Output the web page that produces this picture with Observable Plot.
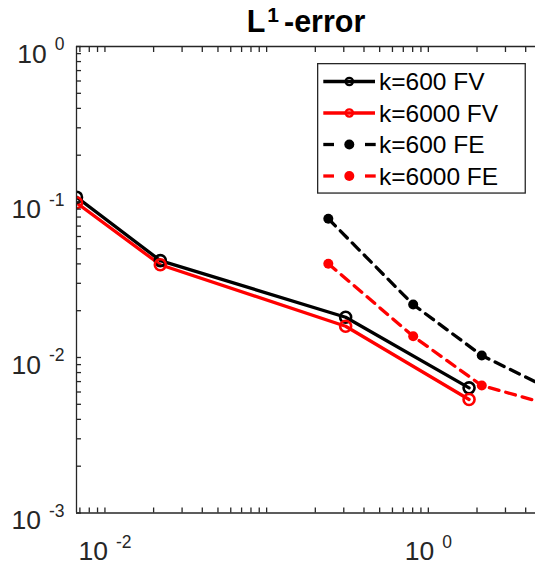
<!DOCTYPE html>
<html>
<head>
<meta charset="utf-8">
<script src="https://cdn.jsdelivr.net/npm/d3@7"></script>
<script src="https://cdn.jsdelivr.net/npm/@observablehq/plot@0.6"></script>
<style>
  html, body { margin: 0; padding: 0; background: #fff; overflow: hidden; }
  #chart { position: relative; width: 535px; height: 566px; font-family: "Liberation Sans", Arial, sans-serif; }
  #legend { position: absolute; left: 317px; top: 63px; }
</style>
</head>
<body>
<div id="chart"></div>
<script>
// Mesh size h and L1 errors for the finite-volume (FV) and finite-element (FE) runs
const hFV = [0.00667, 0.0220, 0.308, 1.786];
const errFV600 = [0.1074, 0.0420, 0.01816, 0.00638];
const errFV6000 = [0.0988, 0.0395, 0.01589, 0.00537];

const hFE = [0.2407, 0.806, 2.14, 6.0];
const errFE600 = [0.0780, 0.0219, 0.0103, 0.00608];
const errFE6000 = [0.0401, 0.0137, 0.0066, 0.00489];

// Series names and colours
const seriesNames = ["k=600 FV", "k=6000 FV", "k=600 FE", "k=6000 FE"];
const seriesColors = ["#000000", "#ff0000", "#000000", "#ff0000"];

// Axis limits and tick labels
const xMin = 0.00667, xMax = 4.6;
const yMin = 0.001, yMax = 1;
const xLabelValues = [0.01, 1];
const xLabelText = ["10^-2", "10^0"];
const yLabelValues = [1, 0.1, 0.01, 0.001];
const yLabelText = ["10^0", "10^-1", "10^-2", "10^-3"];
const titleText = "L^1-error";

// Log-scale minor tick positions (1..9 × 10^d)
const mults = [1, 2, 3, 4, 5, 6, 7, 8, 9];
const xTicks = [-3, -2, -1, 0].flatMap(d => mults.map(k => k * 10 ** d)).filter(v => v >= xMin && v <= xMax);
const yTicks = [-3, -2, -1].flatMap(d => mults.map(k => k * 10 ** d)).concat([1]);

function rows(xs, ys, name, color) {
  return xs.map((x, i) => ({x, y: ys[i], name, color}));
}
const fv = [
  ...rows(hFV, errFV600, seriesNames[0], seriesColors[0]),
  ...rows(hFV, errFV6000, seriesNames[1], seriesColors[1])
];
const fe = [
  ...rows(hFE, errFE600, seriesNames[2], seriesColors[2]),
  ...rows(hFE, errFE6000, seriesNames[3], seriesColors[3])
];

const axisColor = "#262626";

const plot = Plot.plot({
  width: 535,
  height: 566,
  marginLeft: 76,
  marginRight: 0,
  marginTop: 46,
  marginBottom: 53.5,
  style: {fontFamily: "'Liberation Sans', Arial, sans-serif", background: "white", overflow: "hidden"},
  x: {type: "log", domain: [xMin, xMax], axis: null},
  y: {type: "log", domain: [yMin, yMax], axis: null},
  marks: [
    // Finite-volume curves: solid lines with open circles
    Plot.line(fv, {x: "x", y: "y", z: "name", stroke: "color", strokeWidth: 3.3, clip: true}),
    Plot.dot(fv, {x: "x", y: "y", stroke: "color", fill: "none", r: 5.5, strokeWidth: 2.6, clip: true}),
    // Finite-element curves: dashed lines with filled dots
    Plot.line(fe, {x: "x", y: "y", z: "name", stroke: "color", strokeWidth: 3.3, strokeDasharray: "10,7", clip: true}),
    Plot.dot(fe, {x: "x", y: "y", fill: "color", r: 5, clip: true}),
    // Box
    Plot.ruleX([xMin], {stroke: axisColor, strokeWidth: 1.3}),
    Plot.ruleY([yMin, yMax], {stroke: axisColor, strokeWidth: 1.3}),
    // Inward ticks
    Plot.axisX(xTicks, {anchor: "bottom", tickSize: -5, tickFormat: () => "", stroke: axisColor, strokeWidth: 1.3, label: null}),
    Plot.axisX(xTicks, {anchor: "top", tickSize: -5, tickFormat: () => "", stroke: axisColor, strokeWidth: 1.3, label: null}),
    Plot.axisY(yTicks, {anchor: "left", tickSize: -5, tickFormat: () => "", stroke: axisColor, strokeWidth: 1.3, label: null}),
    // Tick labels
    Plot.text(yLabelValues, {y: d => d, frameAnchor: "left", text: (d, i) => yLabelText[i], textAnchor: "end",
      dx: -12, dy: 16, lineAnchor: "bottom", fontSize: 26.5, fill: axisColor}),
    Plot.text(xLabelValues, {x: d => d, frameAnchor: "bottom", text: (d, i) => xLabelText[i], textAnchor: "middle",
      dy: 47, lineAnchor: "bottom", fontSize: 26.5, fill: axisColor}),
    // Title
    Plot.text([titleText], {frameAnchor: "top", text: d => d, textAnchor: "middle", dy: -14.3, lineAnchor: "bottom",
      fontSize: 30.5, fontWeight: "bold", fill: "#000"})
  ]
});

document.getElementById("chart").appendChild(plot);

// Turn "base^exp" strings into base + raised exponent
const svg = d3.select(plot);
svg.selectAll("text").each(function () {
  const s = this.textContent;
  if (!s.includes("^")) return;
  const isTitle = s === titleText;
  const baseSize = isTitle ? 30.5 : 26.5;
  const supSize = isTitle ? 21 : 17.5;
  const rise = isTitle ? 10 : 12.5;
  const gap = isTitle ? 2 : 8;
  const [base, tail] = s.split("^");
  const m = tail.match(/^(-?\d+)(.*)$/);
  const exp = m ? m[1] : tail, rest = m ? m[2] : "";
  this.textContent = base;
  const t = d3.select(this);
  t.append("tspan").attr("dx", gap).attr("dy", -rise).attr("font-size", supSize).text(exp);
  if (rest) t.append("tspan").attr("dx", 5).attr("dy", rise).attr("font-size", baseSize).text(rest);
});

// Legend
const legendRows = [18.5, 50, 81.5, 113];
const lg = d3.select("#chart").append("svg")
  .attr("id", "legend").attr("width", 210).attr("height", 132)
  .style("font-family", "'Liberation Sans', Arial, sans-serif");
lg.append("rect").attr("x", 0.65).attr("y", 0.65).attr("width", 207.6).attr("height", 129.4)
  .attr("fill", "#fff").attr("stroke", axisColor).attr("stroke-width", 1.3);
seriesNames.forEach((name, i) => {
  const y = legendRows[i];
  const c = seriesColors[i];
  const g = lg.append("g");
  if (i < 2) {
    g.append("line").attr("x1", 6.3).attr("x2", 58).attr("y1", y).attr("y2", y).attr("stroke", c).attr("stroke-width", 3.3);
    g.append("circle").attr("cx", 32.3).attr("cy", y).attr("r", 3.6).attr("fill", "none").attr("stroke", c).attr("stroke-width", 2.4);
  } else {
    g.append("line").attr("x1", 6.3).attr("x2", 17).attr("y1", y).attr("y2", y).attr("stroke", c).attr("stroke-width", 3.3);
    g.append("line").attr("x1", 48).attr("x2", 58.7).attr("y1", y).attr("y2", y).attr("stroke", c).attr("stroke-width", 3.3);
    g.append("circle").attr("cx", 32.3).attr("cy", y).attr("r", 5).attr("fill", c);
  }
  g.append("text").attr("x", 62).attr("y", y + 8.5).attr("font-size", 24.5).attr("fill", "#000").text(name);
});
</script>
</body>
</html>
